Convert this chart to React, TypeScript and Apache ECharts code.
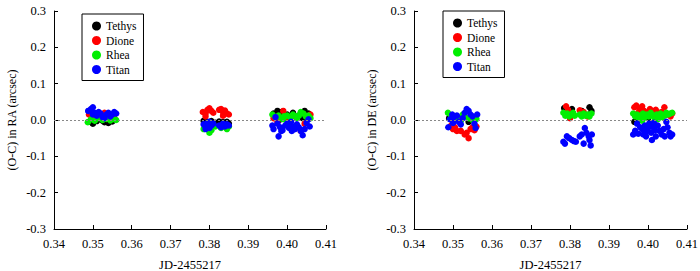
import React, { useEffect, useRef } from "react";
import * as echarts from "echarts";

type P = [number, number];

const xTicksMin = 0.34;
const xTicksMax = 0.41;
const yMin = -0.3;
const yMax = 0.3;
const seriesNames = ["Tethys", "Dione", "Rhea", "Titan"];
const seriesColors = ["#000000", "#ff0000", "#00ee00", "#0000ff"];

// ---- RA panel ----
const raTethys: P[] = [
  [0.349, -0.005], [0.35, -0.01], [0.351, -0.003], [0.352, 0.002], [0.353, -0.006], [0.354, -0.008], [0.355, -0.004], [0.35, 0.0], [0.3545, 0.003], [0.3525, -0.002],
  [0.3785, -0.002], [0.3795, -0.005], [0.3805, -0.003], [0.3815, -0.008], [0.3825, -0.004], [0.3835, -0.006], [0.3845, -0.005], [0.385, -0.01],
  [0.3965, 0.018], [0.3975, 0.025], [0.3985, 0.022], [0.4, 0.015], [0.4015, 0.02], [0.403, 0.012], [0.4045, 0.025], [0.4055, 0.018], [0.398, 0.0], [0.404, 0.005],
];
const raDione: P[] = [
  [0.349, 0.015], [0.35, 0.01], [0.351, 0.018], [0.353, 0.02], [0.355, 0.012], [0.3555, 0.005], [0.3535, 0.008],
  [0.3783, 0.022], [0.379, 0.018], [0.3795, 0.028], [0.38, 0.032], [0.3805, 0.025], [0.381, 0.02], [0.3825, 0.028], [0.383, 0.03], [0.3835, 0.022], [0.384, 0.026], [0.3845, 0.018], [0.385, 0.015], [0.379, 0.01], [0.3835, 0.012],
  [0.3965, 0.005], [0.399, 0.025], [0.4, 0.0], [0.402, 0.01], [0.4035, -0.03], [0.4045, -0.01], [0.406, 0.015], [0.3975, -0.005],
];
const raRhea: P[] = [
  [0.3487, -0.006], [0.3495, 0.002], [0.3505, -0.002], [0.3515, 0.005], [0.3525, 0.0], [0.3535, 0.003], [0.3545, -0.001], [0.3555, 0.002], [0.356, 0.0],
  [0.3785, -0.025], [0.3795, -0.02], [0.38, -0.035], [0.3805, -0.028], [0.3815, -0.018], [0.383, -0.022], [0.3845, -0.025], [0.385, -0.018],
  [0.3962, 0.015], [0.397, 0.008], [0.3978, 0.012], [0.3985, 0.005], [0.3992, 0.01], [0.4, 0.012], [0.4008, 0.008], [0.4015, 0.015], [0.4022, 0.01], [0.403, 0.012], [0.4035, 0.022], [0.4042, 0.018], [0.4048, 0.01], [0.4055, 0.012], [0.406, 0.005], [0.399, 0.002], [0.4025, 0.005],
];
const raTitan: P[] = [
  [0.3488, 0.025], [0.3495, 0.03], [0.35, 0.035], [0.3505, 0.02], [0.351, 0.012], [0.3515, 0.022], [0.352, 0.018], [0.3525, 0.008], [0.3535, 0.015], [0.354, 0.02], [0.3545, 0.01], [0.355, 0.015], [0.3555, 0.022], [0.356, 0.018], [0.35, 0.015], [0.353, 0.005],
  [0.3785, -0.012], [0.379, -0.018], [0.3795, -0.008], [0.38, -0.022], [0.3805, -0.015], [0.381, -0.01], [0.38, -0.005], [0.3825, -0.015], [0.383, -0.02], [0.3835, -0.01], [0.384, -0.018], [0.3845, -0.012], [0.385, -0.015], [0.379, -0.025],
  [0.3962, -0.015], [0.3965, -0.025], [0.397, 0.008], [0.3975, -0.01], [0.3978, -0.045], [0.3982, -0.02], [0.3988, -0.028], [0.3995, -0.015], [0.4, -0.01], [0.4005, -0.022], [0.401, -0.005], [0.4015, -0.018], [0.402, -0.025], [0.4025, -0.012], [0.403, -0.02], [0.4035, -0.03], [0.404, -0.042], [0.4045, -0.025], [0.405, -0.008], [0.4055, 0.002], [0.4058, -0.018], [0.3985, -0.03], [0.4012, -0.03],
];

// ---- DE panel ----
const deTethys: P[] = [
  [0.349, 0.005], [0.35, 0.0], [0.352, 0.002], [0.354, -0.005], [0.3555, 0.0],
  [0.3785, 0.033], [0.3805, 0.03], [0.383, 0.025], [0.385, 0.035], [0.3855, 0.025],
  [0.3965, -0.005], [0.398, 0.01], [0.4, 0.005], [0.403, 0.01], [0.4055, 0.015],
];
const deDione: P[] = [
  [0.3495, -0.015], [0.35, -0.025], [0.351, -0.03], [0.352, -0.03], [0.353, -0.04], [0.3535, -0.035], [0.354, -0.05], [0.3545, -0.025], [0.355, -0.02], [0.3555, -0.028], [0.356, -0.018], [0.3505, -0.02], [0.355, 0.002],
  [0.379, 0.038], [0.38, 0.005], [0.3795, 0.028], [0.3825, 0.027], [0.3835, 0.022], [0.3845, 0.01],
  [0.3965, 0.035], [0.397, 0.04], [0.3978, 0.03], [0.3985, 0.038], [0.399, 0.025], [0.3998, 0.02], [0.4005, 0.03], [0.4012, 0.025], [0.402, 0.028], [0.4028, 0.02], [0.4035, 0.022], [0.4042, 0.035], [0.405, 0.015], [0.4058, 0.01], [0.4062, 0.018], [0.3975, 0.02], [0.4015, 0.015],
];
const deRhea: P[] = [
  [0.3487, 0.02], [0.3495, 0.01], [0.3505, 0.005], [0.3515, 0.0], [0.3525, 0.015], [0.353, 0.01], [0.354, 0.005], [0.355, 0.0], [0.356, 0.003], [0.352, -0.002],
  [0.3783, 0.02], [0.3788, 0.012], [0.3793, 0.018], [0.3798, 0.01], [0.3803, 0.015], [0.3808, 0.02], [0.3812, 0.012], [0.3825, 0.015], [0.383, 0.01], [0.3835, 0.018], [0.384, 0.012], [0.3845, 0.015], [0.385, 0.01], [0.3855, 0.018],
  [0.3962, 0.018], [0.3967, 0.01], [0.3972, 0.015], [0.3977, 0.005], [0.3982, 0.012], [0.3987, 0.018], [0.3992, 0.008], [0.3997, 0.015], [0.4002, 0.01], [0.4007, 0.02], [0.4012, 0.012], [0.4017, 0.005], [0.4022, 0.015], [0.4027, 0.01], [0.4032, 0.018], [0.4037, 0.008], [0.4042, 0.012], [0.4047, 0.02], [0.4052, 0.015], [0.4057, 0.018], [0.4062, 0.02], [0.3985, -0.002], [0.4025, 0.002],
];
const deTitan: P[] = [
  [0.3488, -0.02], [0.3492, 0.002], [0.3498, 0.015], [0.3502, 0.008], [0.351, 0.012], [0.3515, -0.005], [0.352, -0.012], [0.353, 0.02], [0.3535, 0.03], [0.354, 0.025], [0.3545, 0.015], [0.355, 0.01], [0.3555, -0.01], [0.3558, -0.022], [0.3562, 0.015], [0.35, -0.008], [0.3525, 0.005],
  [0.3783, -0.06], [0.3787, -0.065], [0.3792, -0.045], [0.3798, -0.05], [0.3805, -0.055], [0.381, -0.058], [0.3815, -0.06], [0.3825, -0.045], [0.383, -0.04], [0.3835, -0.065], [0.3838, -0.022], [0.3842, -0.035], [0.3848, -0.045], [0.385, -0.055], [0.3853, -0.07], [0.3856, -0.04],
  [0.3962, -0.04], [0.3967, -0.03], [0.3972, -0.01], [0.3975, -0.038], [0.398, -0.02], [0.3985, -0.025], [0.3988, -0.04], [0.3992, -0.015], [0.3997, -0.03], [0.4, -0.022], [0.4003, -0.01], [0.4008, -0.035], [0.401, -0.055], [0.4013, -0.02], [0.4018, -0.028], [0.402, -0.045], [0.4025, -0.015], [0.403, -0.03], [0.4035, -0.04], [0.404, -0.025], [0.4043, -0.045], [0.4047, -0.005], [0.405, -0.02], [0.4055, -0.035], [0.4058, -0.045], [0.4062, -0.04], [0.3995, -0.045], [0.4015, -0.008],
];

const raData = [raTethys, raDione, raRhea, raTitan];
const deData = [deTethys, deDione, deRhea, deTitan];

const FONT = "'Liberation Serif', 'Times New Roman', serif";

function xAxis(gridIndex: number) {
  return {
    type: "value",
    gridIndex,
    min: xTicksMin,
    max: xTicksMax,
    interval: 0.01,
    name: "JD-2455217",
    nameLocation: "middle",
    nameGap: 29,
    nameTextStyle: { fontFamily: FONT, fontSize: 12.5, color: "#000" },
    axisLine: { show: true, onZero: false, lineStyle: { color: "#000", width: 1 } },
    axisTick: { show: true, inside: true, length: 4, lineStyle: { color: "#000" } },
    axisLabel: { fontFamily: FONT, fontSize: 12.5, color: "#000", margin: 8, formatter: (v: number) => v.toFixed(2) },
    splitLine: { show: false },
  };
}

function yAxis(gridIndex: number, name: string) {
  return {
    type: "value",
    gridIndex,
    min: yMin,
    max: yMax,
    interval: 0.1,
    name,
    nameLocation: "middle",
    nameGap: 36,
    nameTextStyle: { fontFamily: FONT, fontSize: 12, color: "#000" },
    axisLine: { show: true, onZero: false, lineStyle: { color: "#000", width: 1 } },
    axisTick: { show: true, inside: true, length: 4, lineStyle: { color: "#000" } },
    axisLabel: { fontFamily: FONT, fontSize: 12.5, color: "#000", margin: 8, formatter: (v: number) => v.toFixed(1) },
    splitLine: { show: false },
  };
}

function makeSeries(data: P[][], idx: number) {
  return data.map((d, i) => ({
    type: "scatter",
    name: seriesNames[i],
    xAxisIndex: idx,
    yAxisIndex: idx,
    data: d,
    symbol: "circle",
    symbolSize: 6.5,
    itemStyle: { color: seriesColors[i], opacity: 1 },
    markLine:
      i === 0
        ? {
            silent: true,
            symbol: "none",
            label: { show: false },
            lineStyle: { color: "#888", type: [2, 2], width: 1 },
            data: [{ yAxis: 0 }],
          }
        : undefined,
    z: 3,
  }));
}

function legend(left: number, top: number) {
  return {
    orient: "vertical",
    left,
    top,
    data: seriesNames,
    icon: "circle",
    itemWidth: 9,
    itemHeight: 9,
    itemGap: 2.5,
    padding: [6, 7, 5, 10],
    borderColor: "#000",
    borderWidth: 1,
    textStyle: { fontFamily: FONT, fontSize: 11.5, color: "#000" },
    selectedMode: false,
  };
}

export default function App() {
  const ref = useRef<HTMLDivElement>(null);
  useEffect(() => {
    if (!ref.current) return;
    const chart = echarts.init(ref.current, undefined, { renderer: "svg" });
    chart.setOption({
      animation: false,
      backgroundColor: "#fff",
      grid: [
        { left: 54, right: 374, top: 11, bottom: 42, outerBoundsMode: "none", containLabel: false },
        { left: 414, right: 13, top: 11, bottom: 42, outerBoundsMode: "none", containLabel: false },
      ],
      xAxis: [xAxis(0), xAxis(1)],
      yAxis: [yAxis(0, "(O-C) in RA (arcsec)"), yAxis(1, "(O-C) in DE (arcsec)")],
      legend: [legend(82, 14), legend(443, 11)],
      series: [...makeSeries(raData, 0), ...makeSeries(deData, 1)],
    });
    return () => chart.dispose();
  }, []);
  return <div ref={ref} style={{ position: "fixed", left: 0, top: 0, width: 700, height: 271 }} />;
}
